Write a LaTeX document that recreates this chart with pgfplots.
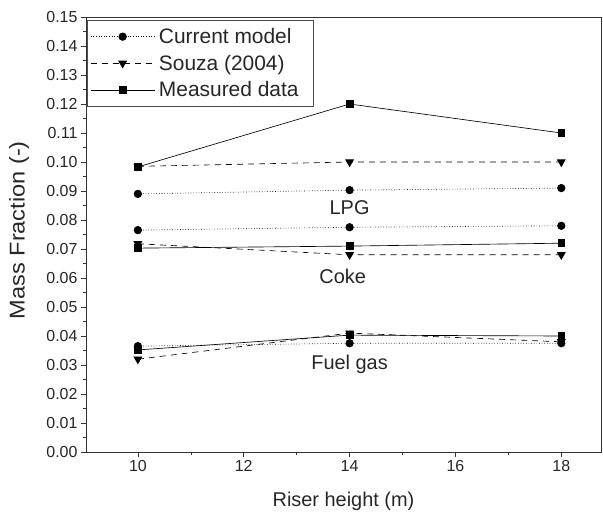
\documentclass[border=0pt]{standalone}
\usepackage{graphicx}
\usepackage{pgfplots}
\pgfplotsset{compat=1.18}
\usepackage{fontspec}
\setmainfont{Liberation Sans}
\begin{document}
\begin{tikzpicture}
\begin{axis}[
  at={(0,0)}, anchor=south west,
  scale only axis, width=515bp, height=435bp,
  xmin=9.02, xmax=18.75, ymin=0, ymax=0.15,
  xtick={10,12,...,18}, minor xtick={11,13,15,17},
  ytick={0,0.01,...,0.155}, minor ytick={0.005,0.015,...,0.15},
  tick pos=left, tick align=outside,
  major tick length=5bp, minor tick length=3bp,
  axis line style={line width=0.6pt, black!80},
  every tick/.style={black!80, line width=0.6pt},
  yticklabel style={/pgf/number format/.cd, fixed, fixed zerofill, precision=2},
  /pgf/number format/assume math mode=true,
  ticklabel style={font=\fontsize{16}{19}\selectfont, text=black!85},
  xlabel={Riser height (m)},
  ylabel={\scalebox{1.1}[1]{Mass Fraction (-)}},
  xlabel style={font=\fontsize{20}{24}\selectfont, text=black!85, at={(axis description cs:0.5,-0.125)}, anchor=base},
  ylabel style={font=\fontsize{21.5}{25}\selectfont, text=black!85, at={(axis description cs:-0.13,0.51)}, anchor=center},
  legend style={at={(0.002,0.993)}, anchor=north west, draw=black!70, line width=0.6pt,
    font=\fontsize{21}{25}\selectfont, text=black!85, inner xsep=3bp, inner ysep=6bp,
    row sep=6bp, nodes={inner xsep=4bp}},
  legend cell align=left,
  legend image code/.code={\draw[mark repeat=2,mark phase=2] plot coordinates {(0bp,0bp)(32bp,0bp)(64bp,0bp)};},
  every axis plot/.append style={line width=0.65pt, black},
]
% LPG
\addplot[dotted, mark=*, mark size=3.8, mark options={solid}] coordinates {(10,0.089) (14,0.0903) (18,0.091)};
\addlegendentry{Current model}
\addplot[dashed, dash pattern=on 6bp off 5bp, mark=triangle*, mark size=4.5, mark options={solid, rotate=180}] coordinates {(10,0.0985) (14,0.100) (18,0.100)};
\addlegendentry{Souza (2004)}
\addplot[solid, mark=square*, mark size=3.4] coordinates {(10,0.0983) (14,0.120) (18,0.110)};
\addlegendentry{Measured data\hspace*{8bp}}
% Coke
\addplot[dotted, mark=*, mark size=3.8, mark options={solid}] coordinates {(10,0.0765) (14,0.0775) (18,0.078)};
\addplot[dashed, dash pattern=on 6bp off 5bp, mark=triangle*, mark size=4.5, mark options={solid, rotate=180}] coordinates {(10,0.0718) (14,0.068) (18,0.068)};
\addplot[solid, mark=square*, mark size=3.4] coordinates {(10,0.0703) (14,0.071) (18,0.072)};
% Fuel gas
\addplot[dotted, mark=*, mark size=3.8, mark options={solid}] coordinates {(10,0.0365) (14,0.0375) (18,0.0375)};
\addplot[dashed, dash pattern=on 6bp off 5bp, mark=triangle*, mark size=4.5, mark options={solid, rotate=180}] coordinates {(10,0.032) (14,0.041) (18,0.038)};
\addplot[solid, mark=square*, mark size=3.4] coordinates {(10,0.0352) (14,0.0403) (18,0.040)};
\node[font=\fontsize{20}{24}\selectfont, text=black!85] at (axis cs:14,0.0841) {LPG};
\node[font=\fontsize{20}{24}\selectfont, text=black!85] at (axis cs:13.87,0.0607) {Coke};
\node[font=\fontsize{20}{24}\selectfont, text=black!85] at (axis cs:14,0.0303) {Fuel gas};
\end{axis}
\pgfresetboundingbox
\path[use as bounding box] (-86bp,-64bp) rectangle (517bp,452bp);
\end{tikzpicture}
\end{document}
